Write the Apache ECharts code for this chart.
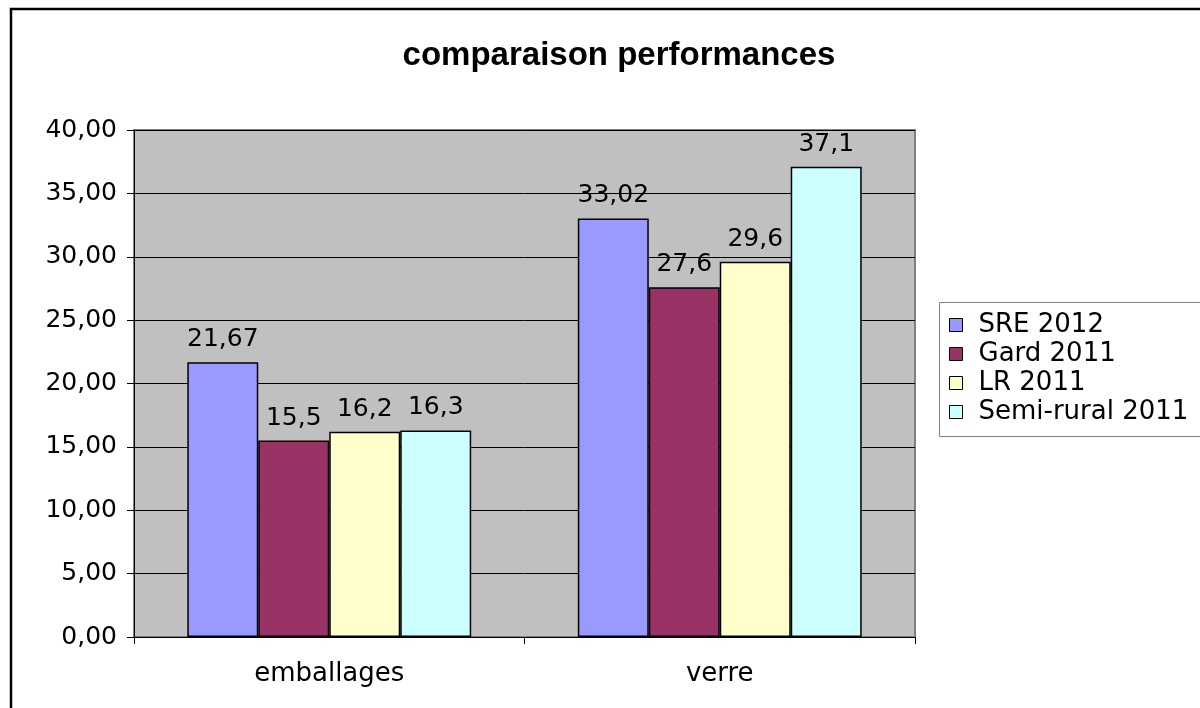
<!DOCTYPE html>
<html>
<head>
<meta charset="utf-8">
<script src="https://cdn.jsdelivr.net/npm/echarts@6/dist/echarts.min.js"></script>
<style>
  html, body { margin: 0; padding: 0; background: #fff; }
  #main { width: 1200px; height: 708px; }
</style>
</head>
<body>
<div id="main"></div>
<script>
// categories and series
var categories = ["emballages", "verre"];
var seriesNames = ["SRE 2012", "Gard 2011", "LR 2011", "Semi-rural 2011"];
var sre2012 = [21.67, 33.02];
var gard2011 = [15.5, 27.6];
var lr2011 = [16.2, 29.6];
var semiRural2011 = [16.3, 37.1];
var colors = ["#9999FF", "#993366", "#FFFFCC", "#CCFFFF"];

// the original text is wide, DejaVu comes closer than Arial
var font = "'DejaVu Sans', Verdana, sans-serif";
var titleFont = "'Liberation Sans', Arial, sans-serif";

function commaFmt(p) {
  return String(p.value).replace(".", ",");
}

function barSeries(name, data, color) {
  return {
    name: name,
    type: "bar",
    data: data,
    barGap: "0%",
    barCategoryGap: "27.3%",
    itemStyle: { color: color, borderColor: "#000", borderWidth: 1.5 },
    label: {
      show: true,
      position: "top",
      distance: 10,
      color: "#000",
      fontFamily: font,
      fontSize: 25,
      formatter: commaFmt
    }
  };
}

var chart = echarts.init(document.getElementById("main"));
var option = {
  animation: false,
  backgroundColor: "#fff",
  title: {
    text: "comparaison performances",
    left: 614,
    textAlign: "center",
    top: 34,
    textStyle: { fontFamily: titleFont, fontSize: 33, fontWeight: "bold", color: "#000" }
  },
  // outer frame + legend box
  graphic: [
    {
      type: "rect",
      shape: { x: 11, y: 9, width: 1200, height: 710 },
      style: { fill: null, stroke: "#000", lineWidth: 2.5 },
      silent: true
    },
    {
      type: "rect",
      shape: { x: 939.5, y: 302.5, width: 270, height: 134 },
      style: { fill: "#fff", stroke: "#808080", lineWidth: 1 },
      silent: true,
      z: -1
    }
  ],
  legend: {
    orient: "vertical",
    left: 944,
    top: 307,
    itemWidth: 13,
    itemHeight: 13,
    itemGap: 3,
    icon: "rect",
    data: seriesNames,
    itemStyle: { borderColor: "#000", borderWidth: 1 },
    textStyle: { fontFamily: font, fontSize: 26, color: "#000", padding: [0, 0, 0, 11] }
  },
  grid: {
    left: 134,
    top: 130,
    right: 285,
    bottom: 71,
    show: true,
    backgroundColor: "#C0C0C0",
    borderColor: "#808080",
    borderWidth: 2
  },
  xAxis: {
    type: "category",
    data: categories,
    axisLine: { lineStyle: { color: "#000", width: 1 } },
    axisTick: { show: true, length: 7, lineStyle: { color: "#000" } },
    axisLabel: { margin: 24, color: "#000", fontFamily: font, fontSize: 26 },
    splitLine: { show: false }
  },
  yAxis: {
    type: "value",
    min: 0,
    max: 40,
    interval: 5,
    axisLine: { show: true, lineStyle: { color: "#000", width: 1 } },
    axisTick: { show: true, length: 7, lineStyle: { color: "#000" } },
    axisLabel: {
      margin: 17,
      color: "#000",
      fontFamily: font,
      fontSize: 25,
      formatter: function (v) { return v.toFixed(2).replace(".", ","); }
    },
    splitLine: { show: true, lineStyle: { color: "#000", width: 1 } }
  },
  series: [
    barSeries(seriesNames[0], sre2012, colors[0]),
    barSeries(seriesNames[1], gard2011, colors[1]),
    barSeries(seriesNames[2], lr2011, colors[2]),
    barSeries(seriesNames[3], semiRural2011, colors[3])
  ]
};
chart.setOption(option);
</script>
</body>
</html>
